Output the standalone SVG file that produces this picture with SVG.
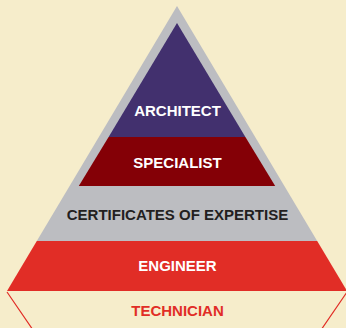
<svg xmlns="http://www.w3.org/2000/svg" width="346" height="328" viewBox="0 0 346 328">
<style>
.lbl{font-family:"Liberation Sans",Arial,sans-serif;font-weight:bold;font-size:15px;text-anchor:middle}
.w{fill:#ffffff}
</style>
<rect x="0" y="0" width="346" height="328" fill="#f6edcb"/>
<g id="certificates">
<polygon points="177,6 36.8,241 317.2,241" fill="#bcbdc1"/>
<text class="lbl" x="177.5" y="220" fill="#231f20">CERTIFICATES OF EXPERTISE</text>
</g>
<g id="architect">
<polygon points="177,23 108.6,137 245.4,137" fill="#42306e"/>
<text class="lbl w" x="177.5" y="115.5">ARCHITECT</text>
</g>
<g id="specialist">
<polygon points="108.6,137 245.4,137 275.2,186 78.8,186" fill="#840006"/>
<text class="lbl w" x="177.5" y="168">SPECIALIST</text>
</g>
<g id="engineer">
<polygon points="36.8,241 317.2,241 347,291 7,291" fill="#e12d26"/>
<text class="lbl w" x="177.5" y="271">ENGINEER</text>
</g>
<g id="technician">
<path d="M7,292 L33,330 M347,292 L321,330" stroke="#e12d26" stroke-width="1.2" fill="none"/>
<text class="lbl" x="177.5" y="316" fill="#e12d26">TECHNICIAN</text>
</g>
<g id="connectors"/>
</svg>
